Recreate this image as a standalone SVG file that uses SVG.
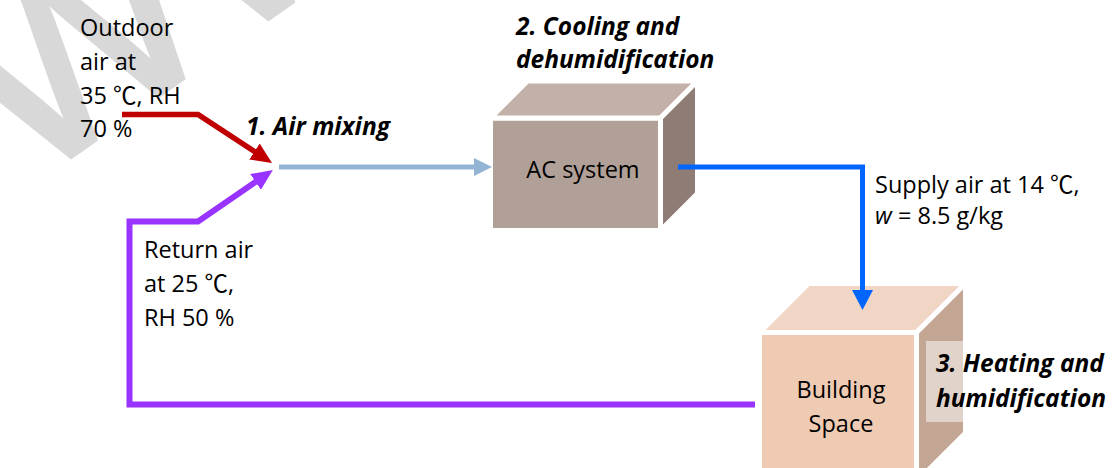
<svg xmlns="http://www.w3.org/2000/svg" width="1115" height="468" viewBox="0 0 1115 468">
<style>
.t{font-family:"Open Sans","Noto Sans CJK SC",sans-serif;font-size:23.5px;fill:#000}
.b{font-family:"Open Sans","Noto Sans",sans-serif;font-size:24.5px;font-weight:bold;font-style:italic;fill:#000}
.face{stroke:#fff;stroke-width:5;stroke-linejoin:miter}
.ln{fill:none;stroke-linejoin:miter;stroke-linecap:butt}
.wm{font-family:"Liberation Sans",sans-serif;fill:#bfbfbf;stroke:#bfbfbf;stroke-width:6;opacity:0.6}
</style>
<defs>
<marker id="mRed" markerUnits="userSpaceOnUse" markerWidth="21" markerHeight="19" viewBox="0 0 21 19" refX="6" refY="9.5" orient="auto"><path d="M0,0 L21,9.5 L0,19 z" fill="#C00000"/></marker>
<marker id="mPur" markerUnits="userSpaceOnUse" markerWidth="21" markerHeight="19" viewBox="0 0 21 19" refX="6" refY="9.5" orient="auto"><path d="M0,0 L21,9.5 L0,19 z" fill="#9933FF"/></marker>
<marker id="mLb" markerUnits="userSpaceOnUse" markerWidth="18" markerHeight="18" viewBox="0 0 18 18" refX="5" refY="9" orient="auto"><path d="M0,0 L18,9 L0,18 z" fill="#93B5D3"/></marker>
<marker id="mBl" markerUnits="userSpaceOnUse" markerWidth="20" markerHeight="21" viewBox="0 0 20 21" refX="5" refY="10.5" orient="auto"><path d="M0,0 L20,10.5 L0,21 z" fill="#0066FF"/></marker>
</defs>
<rect width="1115" height="468" fill="#fff"/>

<g id="ac-system">
<path class="face" fill="#B1A097" d="M490.5,118 H660.5 V230.5 H490.5 Z"/>
<path class="face" fill="#C3B1A9" d="M490.5,118 L527.5,81 H697.5 L660.5,118 Z"/>
<path class="face" fill="#8F7D75" d="M660.5,118 L697.5,81 V193.5 L660.5,230.5 Z"/>
<text class="t" x="583" y="178" text-anchor="middle">AC system</text>
</g>

<g id="building-space">
<path class="face" fill="#EFCBB3" d="M759.5,332.5 H916.5 V482 H759.5 Z"/>
<path class="face" fill="#F2D6C5" d="M759.5,332.5 L808.5,283.5 H965.5 L916.5,332.5 Z"/>
<path class="face" fill="#C4A695" d="M916.5,332.5 L965.5,283.5 V433 L916.5,482 Z"/>
<text class="t" x="841" y="398" text-anchor="middle">Building</text>
<text class="t" x="841" y="432" text-anchor="middle">Space</text>
</g>

<g id="connectors">
<path class="ln" d="M122,114.5 H198 L259.5,154.8" stroke="#C00000" stroke-width="5.5" marker-end="url(#mRed)"/>
<path class="ln" d="M755,404.5 H129.5 V221.5 H198 L260.5,178.5" stroke="#9933FF" stroke-width="6" marker-end="url(#mPur)"/>
<path class="ln" d="M279,167 H479" stroke="#93B5D3" stroke-width="5" marker-end="url(#mLb)"/>
<path class="ln" d="M678,167 H862.5 V295" stroke="#0066FF" stroke-width="5" marker-end="url(#mBl)"/>
</g>

<g id="watermark">
<text class="wm" font-size="255" transform="translate(28,186) rotate(-35)">WWW</text>
</g>

<g id="label-outdoor">
<text class="t" x="80" y="36">Outdoor</text>
<text class="t" x="80" y="70">air at</text>
<text class="t" x="80" y="104">35 ℃, RH</text>
<text class="t" x="80" y="137">70 %</text>
</g>
<g id="label-mixing"><text class="b" x="246" y="135">1. Air mixing</text></g>
<g id="label-cooling">
<text class="b" x="516" y="35">2. Cooling and</text>
<text class="b" x="516" y="68">dehumidification</text>
</g>
<g id="label-supply">
<text class="t" x="875" y="193">Supply air at 14 ℃,</text>
<text class="t" x="875" y="224"><tspan font-style="italic">w</tspan> = 8.5 g/kg</text>
</g>
<g id="label-return">
<text class="t" x="144" y="258">Return air</text>
<text class="t" x="144" y="292">at 25 ℃,</text>
<text class="t" x="144" y="326">RH 50 %</text>
</g>
<g id="label-heating">
<rect x="926" y="341" width="189" height="81" fill="#fff" fill-opacity="0.5"/>
<text class="b" x="936" y="372">3. Heating and</text>
<text class="b" x="936" y="407">humidification</text>
</g>
</svg>
